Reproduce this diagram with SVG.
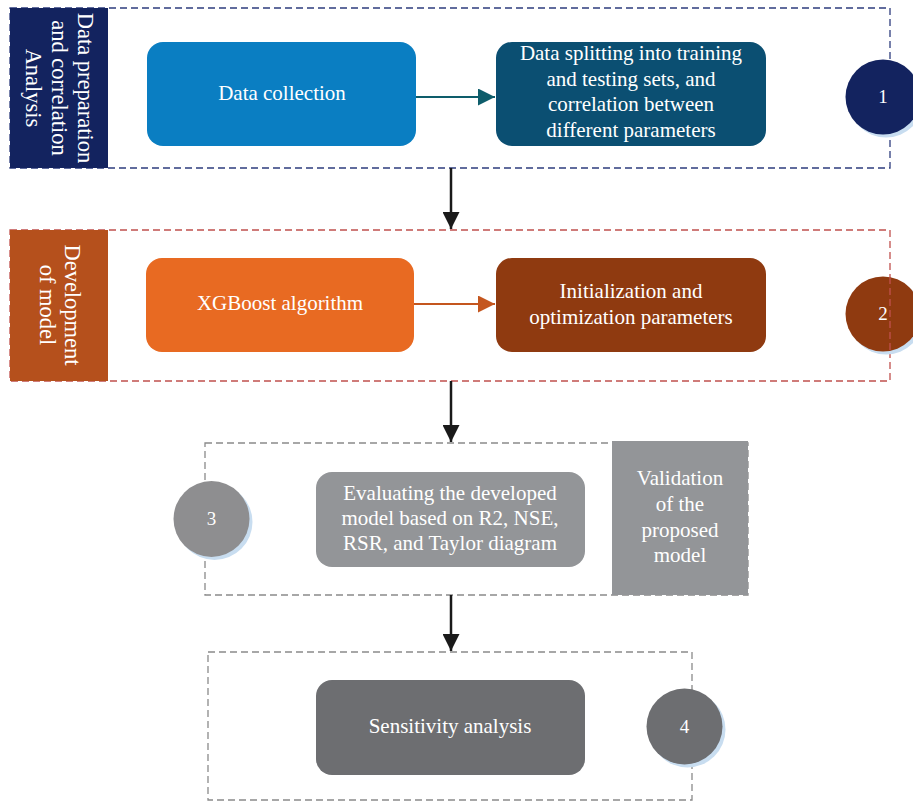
<svg xmlns="http://www.w3.org/2000/svg" width="913" height="803" viewBox="0 0 913 803">
<defs>
<style>
text{font-family:"Liberation Serif","Times New Roman",serif;fill:#ffffff;font-size:21px;text-anchor:middle}
.side{font-size:22.5px}
.dash{fill:none;stroke-width:1.3;stroke-dasharray:7 4}
.shadow{fill:#c8ddf0}
.num{font-size:19px}
</style>
<marker id="ah" viewBox="0 0 10 10" refX="10" refY="5" markerWidth="17" markerHeight="25" markerUnits="userSpaceOnUse" orient="auto">
<path d="M0,0 L10,5 L0,10 z" fill="#1a1a1a"/>
</marker>
<marker id="ahT" viewBox="0 0 10 10" refX="10" refY="5" markerWidth="26" markerHeight="17" markerUnits="userSpaceOnUse" orient="auto">
<path d="M0,0 L10,5 L0,10 z" fill="#0e5d6b"/>
</marker>
<marker id="ahO" viewBox="0 0 10 10" refX="10" refY="5" markerWidth="26" markerHeight="17" markerUnits="userSpaceOnUse" orient="auto">
<path d="M0,0 L10,5 L0,10 z" fill="#c4561e"/>
</marker>
<marker id="ahV" viewBox="0 0 10 10" refX="10" refY="5" markerWidth="25" markerHeight="17" markerUnits="userSpaceOnUse" orient="auto">
<path d="M0,0 L10,5 L0,10 z" fill="#1a1a1a"/>
</marker>
</defs>

<g id="stage1">
<rect class="dash" x="10" y="8" width="880" height="160" stroke="#2e3d7e"/>
<rect x="10" y="8" width="98" height="160" fill="#13235f"/>
<text class="side" transform="translate(59,88) rotate(90)"><tspan x="0" y="-19">Data preparation</tspan><tspan x="0" y="7">and correlation</tspan><tspan x="0" y="33">Analysis</tspan></text>
</g>
<g id="data-collection">
<rect x="147" y="42" width="269" height="104" rx="16" fill="#0a7ec2"/>
<text x="282" y="100">Data collection</text>
</g>
<g id="data-splitting">
<rect x="496" y="42" width="270" height="104" rx="16" fill="#0b4f72"/>
<text x="631" y="60">Data splitting into training</text>
<text x="631" y="86">and testing sets, and</text>
<text x="631" y="111">correlation between</text>
<text x="631" y="137">different parameters</text>
</g>
<g id="circle1">
<circle cx="886" cy="100" r="37.5" class="shadow"/>
<circle cx="883" cy="97" r="37.5" fill="#13235f"/>
<text class="num" x="883" y="103">1</text>
</g>

<g id="stage2">
<rect class="dash" x="10" y="230" width="880" height="151" stroke="#c0504d"/>
<rect x="10" y="230" width="98" height="151" fill="#b5501c"/>
<text class="side" transform="translate(59,305) rotate(90)"><tspan x="0" y="-6">Development</tspan><tspan x="0" y="19">of model</tspan></text>
</g>
<g id="xgboost">
<rect x="146" y="258" width="268" height="94" rx="16" fill="#e86a22"/>
<text x="280" y="310">XGBoost algorithm</text>
</g>
<g id="init-opt">
<rect x="496" y="258" width="270" height="94" rx="16" fill="#8f3a10"/>
<text x="631" y="298">Initialization and</text>
<text x="631" y="324">optimization parameters</text>
</g>
<g id="circle2">
<circle cx="886" cy="317" r="37.5" class="shadow"/>
<circle cx="883" cy="314" r="37.5" fill="#8f3a10"/>
<line x1="890" y1="277" x2="890" y2="352" class="dash" stroke="#c0504d"/>
<text class="num" x="883" y="320">2</text>
</g>

<g id="stage3">
<rect class="dash" x="205" y="443" width="543" height="152" stroke="#8a8a8a"/>
</g>
<g id="validation">
<rect x="612" y="441" width="136" height="154" fill="#939598"/>
<text x="680" y="485">Validation</text>
<text x="680" y="511">of the</text>
<text x="680" y="537">proposed</text>
<text x="680" y="562">model</text>
</g>
<g id="evaluating">
<rect x="316" y="472" width="269" height="95" rx="16" fill="#939598"/>
<text x="450" y="500">Evaluating the developed</text>
<text x="450" y="525">model based on R2, NSE,</text>
<text x="450" y="550">RSR, and Taylor diagram</text>
</g>
<g id="circle3">
<circle cx="214.5" cy="522" r="38" class="shadow"/>
<circle cx="211.5" cy="519" r="38" fill="#8e8e90"/>
<text class="num" x="211.5" y="525">3</text>
</g>

<g id="stage4">
<rect class="dash" x="208" y="652" width="484" height="148" stroke="#8a8a8a"/>
</g>
<g id="sensitivity">
<rect x="316" y="680" width="269" height="95" rx="16" fill="#6d6e71"/>
<text x="450" y="733">Sensitivity analysis</text>
</g>
<g id="circle4">
<circle cx="687.5" cy="729.5" r="38" class="shadow"/>
<circle cx="684.5" cy="726.5" r="38" fill="#6d6e71"/>
<text class="num" x="684.5" y="733">4</text>
</g>

<g id="connectors">
<line x1="416" y1="97" x2="495" y2="97" stroke="#0e5d6b" stroke-width="2" marker-end="url(#ahT)"/>
<line x1="414" y1="304" x2="495" y2="304" stroke="#c4561e" stroke-width="2" marker-end="url(#ahO)"/>
<line x1="451" y1="168" x2="451" y2="229" stroke="#1a1a1a" stroke-width="2.5" marker-end="url(#ahV)"/>
<line x1="451" y1="381" x2="451" y2="442" stroke="#1a1a1a" stroke-width="2.5" marker-end="url(#ahV)"/>
<line x1="451" y1="595" x2="451" y2="651" stroke="#1a1a1a" stroke-width="2.5" marker-end="url(#ahV)"/>
</g>
</svg>
